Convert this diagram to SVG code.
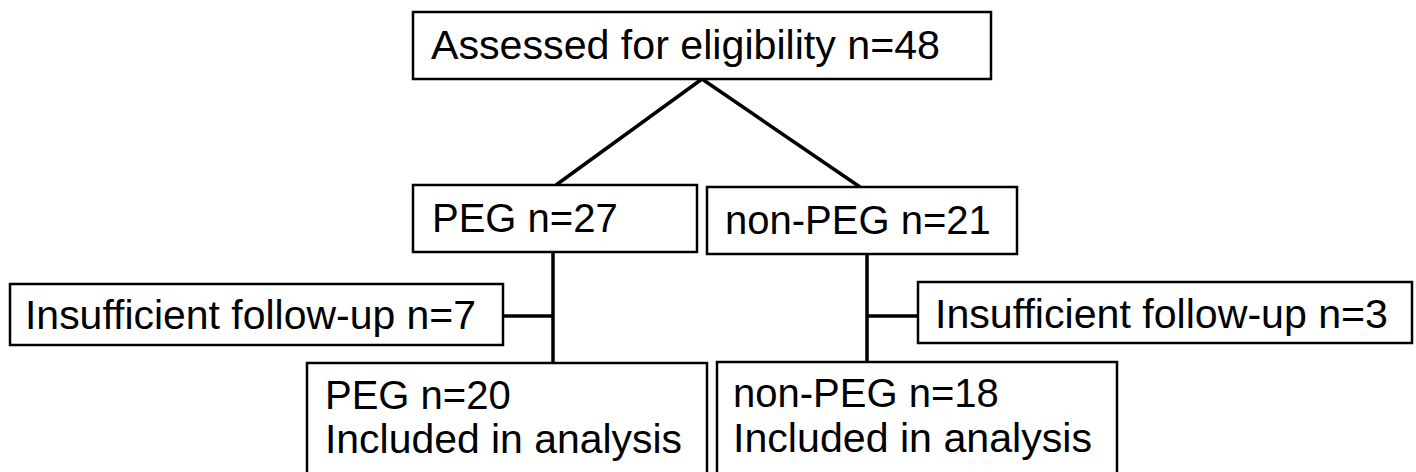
<svg xmlns="http://www.w3.org/2000/svg" width="1416" height="472" viewBox="0 0 1416 472">
<style>
.box{fill:#fff;stroke:#000;stroke-width:2.5}
.t{font-family:"Liberation Sans",Arial,Helvetica,sans-serif;font-size:40px;fill:#000}
.c{stroke:#000;stroke-width:3.5;fill:none;stroke-linecap:butt}
</style>
<rect width="1416" height="472" fill="#fff"/>
<g id="connectors">
<line class="c" x1="702" y1="79" x2="556" y2="185"/>
<line class="c" x1="702" y1="79" x2="860" y2="187"/>
<line class="c" x1="553" y1="252" x2="553" y2="363"/>
<line class="c" x1="503" y1="316" x2="553" y2="316"/>
<line class="c" x1="867" y1="254" x2="867" y2="362"/>
<line class="c" x1="867" y1="316" x2="918" y2="316"/>
</g>
<g id="assessed">
<rect class="box" x="413" y="12" width="578" height="67"/>
<text class="t" x="431" y="59" textLength="509" lengthAdjust="spacingAndGlyphs">Assessed for eligibility n=48</text>
</g>
<g id="peg">
<rect class="box" x="413" y="185" width="284" height="67"/>
<text class="t" x="432" y="232">PEG n=27</text>
</g>
<g id="nonpeg">
<rect class="box" x="707" y="187" width="310" height="67"/>
<text class="t" x="725" y="234">non-PEG n=21</text>
</g>
<g id="insuff7">
<rect class="box" x="10" y="284" width="493" height="61"/>
<text class="t" x="25" y="329" textLength="451" lengthAdjust="spacingAndGlyphs">Insufficient follow-up n=7</text>
</g>
<g id="insuff3">
<rect class="box" x="918" y="282" width="494" height="61"/>
<text class="t" x="935" y="328" textLength="453" lengthAdjust="spacingAndGlyphs">Insufficient follow-up n=3</text>
</g>
<g id="peg20">
<rect class="box" x="307" y="363" width="400" height="130"/>
<text class="t" x="325" y="409">PEG n=20</text>
<text class="t" x="325" y="453" textLength="357" lengthAdjust="spacingAndGlyphs">Included in analysis</text>
</g>
<g id="nonpeg18">
<rect class="box" x="717" y="362" width="400" height="130"/>
<text class="t" x="733" y="407">non-PEG n=18</text>
<text class="t" x="733" y="452" textLength="359" lengthAdjust="spacingAndGlyphs">Included in analysis</text>
</g>
</svg>
